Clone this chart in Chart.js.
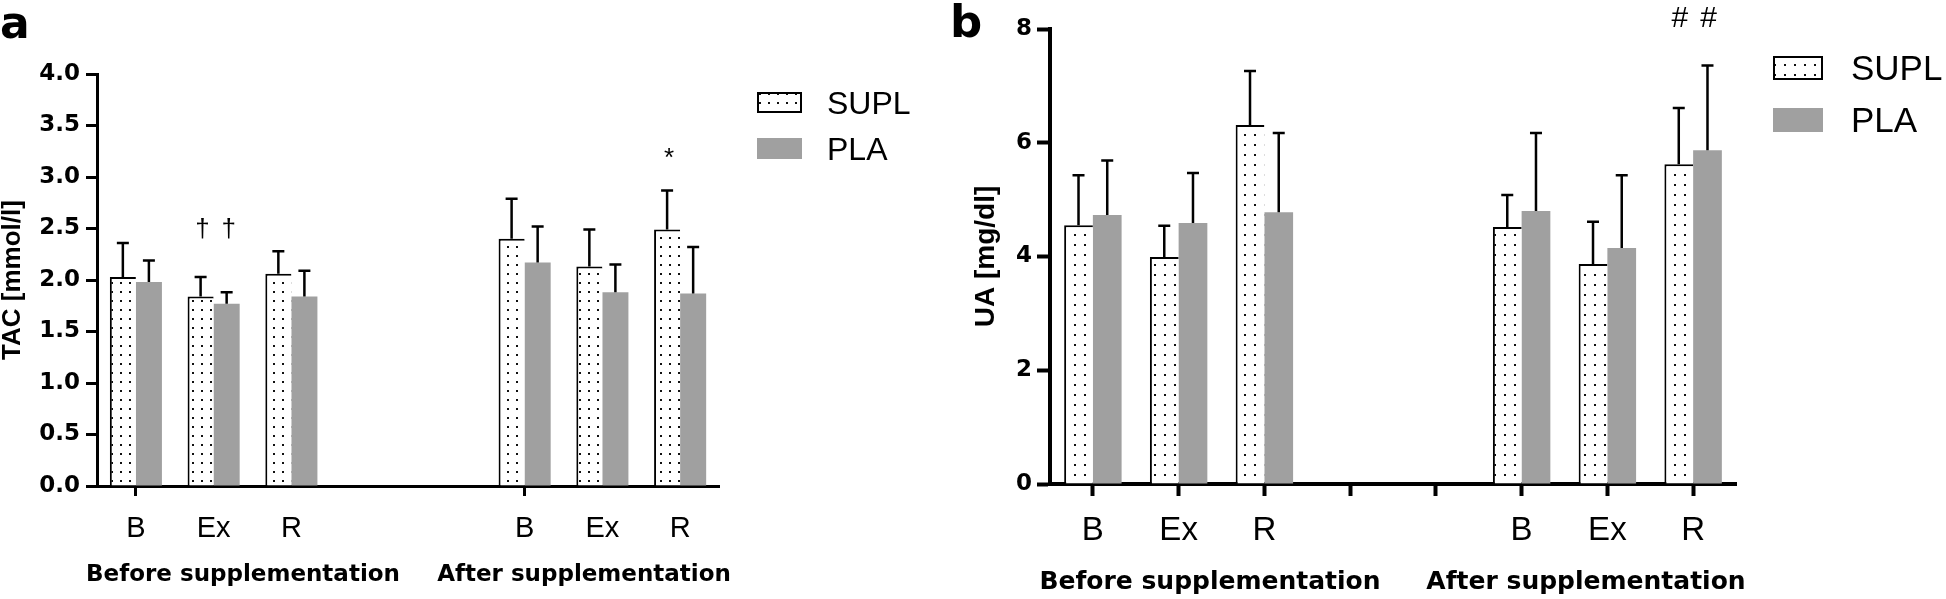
<!DOCTYPE html>
<html><head><meta charset="utf-8">
<script src="https://cdn.jsdelivr.net/npm/chart.js@4.4.1/dist/chart.umd.min.js"></script>
<style>
html,body{margin:0;padding:0;background:#fff;}
#wrap{position:relative;width:1946px;height:599px;overflow:hidden;background:#fff}
canvas{position:absolute;top:0}
#ca{left:0}
#cb{left:950px}
</style></head><body>
<div id="wrap"><canvas id="ca" width="950" height="599"></canvas><canvas id="cb" width="996" height="599"></canvas></div>
<script>
// ---------- DATA ----------
const categories = ['B', 'Ex', 'R', '', '', 'B', 'Ex', 'R'];
const groupLabels = ['Before supplementation', 'After supplementation'];
const seriesNames = ['SUPL', 'PLA'];

// Panel a: TAC [mmol/l] (mean and SD)
const tacSupl    = [2.03, 1.84, 2.06, null, null, 2.40, 2.13, 2.49];
const tacSuplErr = [0.33, 0.19, 0.22, null, null, 0.39, 0.36, 0.38];
const tacPla     = [1.98, 1.77, 1.84, null, null, 2.17, 1.88, 1.87];
const tacPlaErr  = [0.21, 0.11, 0.25, null, null, 0.35, 0.27, 0.45];
const tacAxis    = {min: 0, max: 4, step: 0.5, title: 'TAC [mmol/l]'};

// Panel b: UA [mg/dl] (mean and SD)
const uaSupl     = [4.55, 3.99, 6.31, null, null, 4.52, 3.87, 5.62];
const uaSuplErr  = [0.88, 0.55, 0.95, null, null, 0.56, 0.74, 0.99];
const uaPla      = [4.73, 4.59, 4.78, null, null, 4.80, 4.15, 5.87];
const uaPlaErr   = [0.96, 0.88, 1.39, null, null, 1.37, 1.28, 1.49];
const uaAxis     = {min: 0, max: 8, step: 2, title: 'UA [mg/dl]'};

// significance marks: [text, dataset index, category index, value level]
const tacMarks = [['\u2020', 0, 1, 2.5], ['\u2020', 1, 1, 2.5], ['*', 0, 7, 3.23]];
const uaMarks  = [['#', 0, 7, 8.21], ['#', 1, 7, 8.21]];

// ---------- HELPERS ----------
const GRAY = '#a0a0a0';
function dotPattern(canvas, step) {
  const c = document.createElement('canvas');
  c.width = step; c.height = step;
  const g = c.getContext('2d');
  g.fillStyle = '#fff'; g.fillRect(0, 0, step, step);
  g.fillStyle = '#111';
  const o = Math.floor(step / 2) - 1;
  g.fillRect(o, o, 2, 2);
  return canvas.getContext('2d').createPattern(c, 'repeat');
}
function capText(ctx, text, x, cy, align) {
  const h = ctx.measureText('H').actualBoundingBoxAscent;
  ctx.textAlign = align || 'center';
  ctx.textBaseline = 'alphabetic';
  ctx.fillText(text, x, cy + h / 2);
}
function glyphText(ctx, text, x, cy) {
  const m = ctx.measureText(text);
  ctx.textAlign = 'center';
  ctx.textBaseline = 'alphabetic';
  ctx.fillText(text, x, cy + (m.actualBoundingBoxAscent - m.actualBoundingBoxDescent) / 2);
}

const extras = {
  id: 'extras',
  afterDatasetsDraw(chart, args, o) {
    const ctx = chart.ctx, ys = chart.scales.y;
    chart.data.datasets.forEach((ds, di) => {
      const meta = chart.getDatasetMeta(di);
      meta.data.forEach((bar, i) => {
        const v = ds.data[i], e = ds.errors[i];
        if (v == null || e == null) return;
        const top = ys.getPixelForValue(v + e);
        ctx.save();
        ctx.strokeStyle = '#000'; ctx.lineWidth = o.errWidth; ctx.lineCap = 'butt';
        ctx.beginPath();
        ctx.moveTo(bar.x, bar.y); ctx.lineTo(bar.x, top);
        ctx.moveTo(bar.x - o.cap / 2, top); ctx.lineTo(bar.x + o.cap / 2, top);
        ctx.stroke();
        ctx.restore();
      });
    });
  },
  afterDraw(chart, args, o) {
    const ctx = chart.ctx, ys = chart.scales.y;
    ctx.save();
    ctx.fillStyle = '#000';
    // significance marks
    ctx.font = o.markFont;
    o.marks.forEach(([t, di, idx, lvl]) => {
      const bar = chart.getDatasetMeta(di).data[idx];
      glyphText(ctx, t, bar.x + (o.markDx || 0), ys.getPixelForValue(lvl));
    });
    // legend
    const L = o.legend;
    chart.data.datasets.forEach((ds, i) => {
      const y = L.y + i * L.step;
      ctx.fillStyle = ds.backgroundColor;
      ctx.fillRect(L.x, y, L.w, L.h);
      if (ds.borderWidth && ds.borderWidth.top) {
        ctx.strokeStyle = '#000'; ctx.lineWidth = 2;
        ctx.strokeRect(L.x + 1, y + 1, L.w - 2, L.h - 2);
      }
      ctx.fillStyle = '#000';
      ctx.font = L.font;
      capText(ctx, ds.label, L.x + L.textDx, y + L.h / 2, 'left');
    });
    // group labels
    ctx.font = o.groupFont;
    o.groups.forEach((g, i) => capText(ctx, groupLabels[i], g[0], g[1], 'center'));
    // panel letter
    ctx.font = o.letterFont;
    ctx.textAlign = 'left'; ctx.textBaseline = 'alphabetic';
    ctx.fillText(o.letter[0], o.letter[1], o.letter[2]);
    ctx.restore();
  }
};

function makeChart(id, cfg) {
  const canvas = document.getElementById(id);
  const pat = dotPattern(canvas, cfg.dotStep);
  return new Chart(canvas, {
    type: 'bar',
    data: {
      labels: categories,
      datasets: [
        {label: seriesNames[0], data: cfg.supl, errors: cfg.suplErr, backgroundColor: pat,
         borderColor: '#000', borderWidth: {top: 2, left: 2, right: 0, bottom: 0}, borderSkipped: false},
        {label: seriesNames[1], data: cfg.pla, errors: cfg.plaErr, backgroundColor: GRAY, borderWidth: 0}
      ]
    },
    options: {
      responsive: false, animation: false, events: [],
      devicePixelRatio: 1,
      categoryPercentage: 0.67, barPercentage: 1.0,
      layout: {padding: {left: 0, top: cfg.padTop, right: cfg.padRight, bottom: 0}},
      plugins: {
        legend: {display: false}, tooltip: {enabled: false},
        extras: cfg.extras
      },
      scales: {
        x: {
          z: 1,
          offset: true,
          afterFit: s => { s.height = cfg.xHeight; },
          border: {display: true, color: '#000', width: cfg.axisW},
          grid: {offset: false, drawOnChartArea: false, drawTicks: true, tickLength: cfg.xTick,
                 tickWidth: cfg.axisW, tickColor: cfg.xTickColor, color: '#000'},
          ticks: {color: '#000', font: {family: 'Liberation Sans', size: cfg.xFont}, padding: cfg.xPad,
                  maxRotation: 0, autoSkip: false}
        },
        y: {
          z: 1,
          min: cfg.axis.min, max: cfg.axis.max,
          afterFit: s => { s.width = cfg.yWidth; },
          border: {display: true, color: '#000', width: cfg.axisW},
          grid: {drawOnChartArea: false, drawTicks: true, tickLength: cfg.yTick, tickWidth: cfg.axisW,
                 tickColor: '#000', color: '#000'},
          ticks: {stepSize: cfg.axis.step, color: '#000', padding: cfg.yPad,
                  font: {family: 'DejaVu Sans', weight: 'bold', size: 23},
                  callback: cfg.fmt},
          title: {display: true, text: cfg.axis.title, color: '#000',
                  font: {family: 'Liberation Sans', weight: 'bold', size: cfg.titleFont, lineHeight: 1},
                  padding: {top: cfg.titlePad, bottom: 0}}
        }
      }
    },
    plugins: [extras]
  });
}

makeChart('ca', {
  supl: tacSupl, suplErr: tacSuplErr, pla: tacPla, plaErr: tacPlaErr, axis: tacAxis,
  dotStep: 9, padTop: 74, padRight: 231, xHeight: 113, yWidth: 97, axisW: 3,
  xTick: 10, xFont: 29, xPad: 16, yTick: 11, yPad: 6, titleFont: 26, titlePad: 0,
  fmt: v => v.toFixed(1),
  xTickColor: c => (c.index === 0 || c.index === 5) ? '#000' : 'rgba(0,0,0,0)',
  extras: {
    errWidth: 2.5, cap: 12, marks: tacMarks, markFont: '26px "Liberation Sans"', markDx: 2,
    legend: {x: 757, y: 92, w: 45, h: 21, step: 46, textDx: 70, font: '32px "Liberation Sans"'},
    groups: [[243, 572], [584, 572]], groupFont: 'bold 23px "DejaVu Sans"',
    letter: ['a', 0, 38], letterFont: 'bold 44px "DejaVu Sans"'
  }
});

makeChart('cb', {
  supl: uaSupl, suplErr: uaSuplErr, pla: uaPla, plaErr: uaPlaErr, axis: uaAxis,
  dotStep: 10, padTop: 29, padRight: 210, xHeight: 115, yWidth: 100, axisW: 4,
  xTick: 12, xFont: 33, xPad: 15, yTick: 13, yPad: 5, titleFont: 28, titlePad: 22,
  fmt: v => String(v),
  xTickColor: '#000',
  extras: {
    errWidth: 2.5, cap: 12, marks: uaMarks, markFont: '30px "Liberation Sans"', markDx: 1,
    legend: {x: 823, y: 56, w: 50, h: 24, step: 52, textDx: 78, font: '35px "Liberation Sans"'},
    groups: [[260, 580], [636, 580]], groupFont: 'bold 25px "DejaVu Sans"',
    letter: ['b', 0, 37], letterFont: 'bold 45px "DejaVu Sans"'
  }
});
</script>
</body></html>
